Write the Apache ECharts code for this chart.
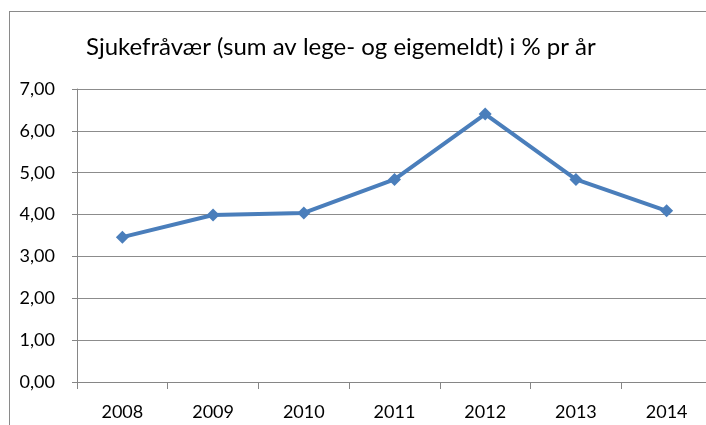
<!DOCTYPE html>
<html>
<head>
<meta charset="utf-8">
<script src="https://cdn.jsdelivr.net/npm/echarts@6/dist/echarts.min.js"></script>
<style>
  html, body { margin: 0; padding: 0; background: #fff; }
  #wrap { position: relative; width: 706px; height: 425px; overflow: hidden; }
  #frame { position: absolute; left: 9px; top: 11px; width: 720px; height: 440px; border: 1px solid #8a8a8a; }
  #chart { position: absolute; left: 0; top: 0; width: 706px; height: 425px; }
</style>
</head>
<body>
<div id="wrap">
  <div id="frame"></div>
  <div id="chart"></div>
</div>
<script>
const years = ['2008', '2009', '2010', '2011', '2012', '2013', '2014']
const sickLeave = [3.46, 3.99, 4.04, 4.84, 6.40, 4.84, 4.09]
const titleText = 'Sjukefråvær (sum av lege- og eigemeldt) i % pr år'

const font = 'Lato, "Open Sans", sans-serif'
const chart = echarts.init(document.getElementById('chart'))

chart.setOption({
  animation: false,
  title: {
    text: titleText,
    left: 86,
    top: 35,
    padding: 0,
    textStyle: { fontFamily: font, fontSize: 24, fontWeight: 'normal', color: '#000' }
  },
  grid: { left: 77, top: 89, width: 635, height: 293, outerBoundsMode: 'none' },
  xAxis: {
    type: 'category',
    data: years,
    boundaryGap: true,
    axisLine: { lineStyle: { color: '#868686', width: 1 } },
    axisTick: { show: true, length: 7, lineStyle: { color: '#868686' } },
    axisLabel: { fontFamily: font, fontSize: 18, color: '#000', margin: 21 }
  },
  yAxis: {
    type: 'value',
    min: 0,
    max: 7,
    interval: 1,
    axisLine: { show: true, lineStyle: { color: '#868686', width: 1 } },
    axisTick: { show: true, length: 5, lineStyle: { color: '#868686' } },
    axisLabel: {
      fontFamily: font, fontSize: 18, color: '#000', margin: 22,
      formatter: v => v.toFixed(2).replace('.', ',')
    },
    splitLine: { lineStyle: { color: '#8c8c8c', width: 1 } }
  },
  series: [{
    type: 'line',
    data: sickLeave,
    symbol: 'diamond',
    symbolSize: 13,
    lineStyle: { color: '#4a7ebb', width: 4 },
    itemStyle: { color: '#4a7ebb' }
  }]
})
</script>
</body>
</html>
